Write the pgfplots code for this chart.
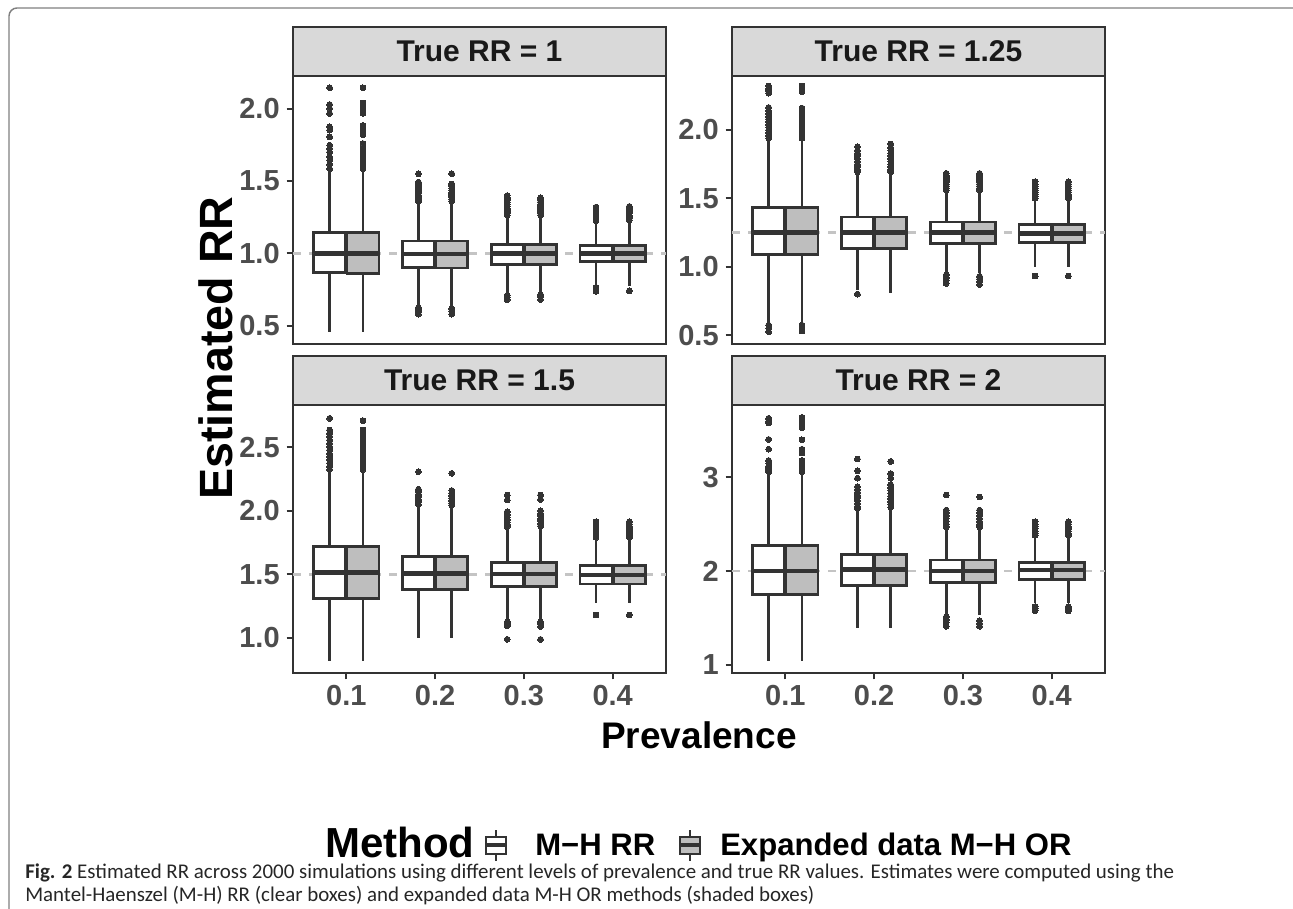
\documentclass[border=0pt]{standalone}
\usepackage{pgfplots}
\pgfplotsset{compat=1.18}
\usepgfplotslibrary{statistics}
\usepackage{fontspec}
\setmainfont{Liberation Sans}
\newfontfamily\capfont{Carlito}

\definecolor{frame}{HTML}{333333}
\definecolor{ticklab}{HTML}{4D4D4D}
\definecolor{stripbg}{HTML}{D9D9D9}
\definecolor{shade}{HTML}{BEBEBE}
\definecolor{refline}{HTML}{C4C4C4}
\definecolor{outer}{HTML}{808080}

\pgfplotsset{
  panel/.style={
    scale only axis, width=279.75pt, height=201pt,
    xmin=0.4, xmax=4.6,
    xtick={1,2,3,4},
    axis line style={draw=frame, line width=2.1pt},
    tick style={draw=frame, line width=1.6pt},
    tick align=outside, major tick length=4.8pt,
    tick pos=left,
    /pgf/number format/assume math mode=true,
    ticklabel style={font=\fontsize{21.75pt}{22pt}\bfseries\selectfont, text=ticklab, inner sep=0pt},
    yticklabel shift=5pt,
    xticklabel shift=4.5pt,
  },
  rrbox/.style={
    draw=frame, line width=1.9pt, solid,
    mark=*, mark size=2.2pt, mark options={draw=frame, fill=frame, line width=0pt},
    boxplot/every median/.style={line width=3.6pt},
  },
  ref/.style={draw=refline, line width=2.2pt, dash pattern=on 6pt off 6pt},
}

% one box: position, fill, lower whisker, lower quartile, median, upper quartile, upper whisker, outliers
\newcommand{\rrbox}[8]{%
  \addplot[rrbox, fill=#2, boxplot prepared={draw direction=y, draw position=#1, box extend=0.36, whisker extend=0,
    lower whisker=#3, lower quartile=#4, median=#5, upper quartile=#6, upper whisker=#7}]
    coordinates {#8};}

\newcommand{\strip}[2]{%
  \draw[fill=stripbg, draw=frame, line width=2.1pt] (#1.north west) rectangle ([yshift=36.75pt]#1.north east);
  \node[font=\fontsize{22.5pt}{23pt}\bfseries\selectfont, text=black!90] at ([yshift=18.4pt]#1.north) {#2};}

\begin{document}
\begin{tikzpicture}
\useasboundingbox (0,0) rectangle (969.75pt,681pt);
\draw[outer, line width=1.1pt, rounded corners=6pt] (6.75pt,-20pt) rectangle (990pt,675pt);

% True RR = 1
\begin{axis}[panel, name=p1, at={(219.75pt,624pt)}, anchor=north west,
  ymin=0.373, ymax=2.227, ytick={0.5,1,1.5,2}, yticklabels={0.5,1.0,1.5,2.0}, xtick=\empty]
\addplot[ref] coordinates {(0.4,1)(4.6,1)};
\rrbox{0.8125}{white}{0.458}{0.866}{1.0}{1.146}{1.574}{(0,2.146)(0,2.03)(0,2.003)(0,1.968)(0,1.875)(0,1.852)(0,1.806)(0,1.748)(0,1.725)(0,1.701)(0,1.667)(0,1.644)(0,1.616)(0,1.586)}
\rrbox{1.1875}{shade}{0.458}{0.862}{1.0}{1.146}{1.574}{(0,2.146)(0,2.04)(0,2.017)(0,1.99)(0,1.968)(0,1.885)(0,1.852)(0,1.82)(0,1.76)(0,1.725)(0,1.701)(0,1.667)(0,1.644)(0,1.616)(0,1.586)}
\rrbox{1.8125}{white}{0.637}{0.901}{0.995}{1.086}{1.354}{(0,1.551)(0,1.493)(0,1.478)(0,1.463)(0,1.448)(0,1.433)(0,1.418)(0,1.403)(0,1.388)(0,1.373)(0,1.36)(0,0.625)(0,0.61)(0,0.595)(0,0.579)}
\rrbox{2.1875}{shade}{0.637}{0.899}{0.995}{1.086}{1.354}{(0,1.551)(0,1.48)(0,1.466)(0,1.45)(0,1.435)(0,1.42)(0,1.405)(0,1.39)(0,1.375)(0,1.36)(0,0.618)(0,0.60)(0,0.58)}
\rrbox{2.8125}{white}{0.718}{0.924}{1.0}{1.063}{1.25}{(0,1.40)(0,1.385)(0,1.37)(0,1.355)(0,1.34)(0,1.325)(0,1.31)(0,1.295)(0,1.28)(0,1.265)(0,0.71)(0,0.695)(0,0.68)}
\rrbox{3.1875}{shade}{0.718}{0.924}{1.0}{1.063}{1.25}{(0,1.385)(0,1.37)(0,1.355)(0,1.34)(0,1.325)(0,1.31)(0,1.295)(0,1.28)(0,1.265)(0,0.715)(0,0.70)(0,0.68)}
\rrbox{3.8125}{white}{0.776}{0.942}{1.0}{1.053}{1.215}{(0,1.32)(0,1.305)(0,1.29)(0,1.27)(0,1.255)(0,1.24)(0,1.225)(0,0.765)(0,0.75)(0,0.738)}
\rrbox{4.1875}{shade}{0.776}{0.942}{1.0}{1.053}{1.215}{(0,1.325)(0,1.31)(0,1.295)(0,1.28)(0,1.26)(0,1.245)(0,1.23)(0,0.741)}
\end{axis}
\strip{p1}{True RR = 1}

% True RR = 1.25
\begin{axis}[panel, name=p2, at={(549pt,624pt)}, anchor=north west,
  ymin=0.435, ymax=2.395, ytick={0.5,1,1.5,2}, yticklabels={0.5,1.0,1.5,2.0}, xtick=\empty]
\addplot[ref] coordinates {(0.4,1.25)(4.6,1.25)};
\rrbox{0.8125}{white}{0.598}{1.091}{1.249}{1.432}{1.927}{(0,2.322)(0,2.305)(0,2.29)(0,2.27)(0,2.165)(0,2.14)(0,2.12)(0,2.10)(0,2.08)(0,2.06)(0,2.04)(0,2.02)(0,2.00)(0,1.98)(0,1.96)(0,1.94)(0,0.573)(0,0.55)(0,0.525)}
\rrbox{1.1875}{shade}{0.598}{1.091}{1.249}{1.432}{1.927}{(0,2.322)(0,2.30)(0,2.28)(0,2.16)(0,2.13)(0,2.10)(0,2.08)(0,2.06)(0,2.04)(0,2.02)(0,2.00)(0,1.98)(0,1.96)(0,1.94)(0,0.573)(0,0.55)(0,0.53)}
\rrbox{1.8125}{white}{0.83}{1.134}{1.249}{1.364}{1.683}{(0,1.878)(0,1.85)(0,1.83)(0,1.81)(0,1.79)(0,1.77)(0,1.75)(0,1.73)(0,1.71)(0,1.695)(0,0.80)}
\rrbox{2.1875}{shade}{0.805}{1.134}{1.249}{1.364}{1.683}{(0,1.898)(0,1.87)(0,1.85)(0,1.83)(0,1.81)(0,1.79)(0,1.77)(0,1.75)(0,1.73)(0,1.71)(0,1.695)}
\rrbox{2.8125}{white}{0.951}{1.171}{1.249}{1.327}{1.549}{(0,1.683)(0,1.665)(0,1.65)(0,1.635)(0,1.62)(0,1.605)(0,1.59)(0,1.575)(0,1.56)(0,0.94)(0,0.92)(0,0.90)(0,0.878)}
\rrbox{3.1875}{shade}{0.951}{1.171}{1.249}{1.327}{1.549}{(0,1.683)(0,1.665)(0,1.65)(0,1.635)(0,1.62)(0,1.605)(0,1.59)(0,1.575)(0,1.56)(0,0.93)(0,0.91)(0,0.89)(0,0.87)}
\rrbox{3.8125}{white}{1.0}{1.178}{1.243}{1.31}{1.488}{(0,1.622)(0,1.605)(0,1.59)(0,1.575)(0,1.56)(0,1.545)(0,1.53)(0,1.515)(0,1.50)(0,0.932)}
\rrbox{4.1875}{shade}{1.0}{1.178}{1.245}{1.31}{1.488}{(0,1.622)(0,1.605)(0,1.59)(0,1.575)(0,1.56)(0,1.545)(0,1.53)(0,1.515)(0,1.50)(0,0.932)}
\end{axis}
\strip{p2}{True RR = 1.25}

% True RR = 1.5
\begin{axis}[panel, name=p3, at={(219.75pt,377.25pt)}, anchor=north west,
  ymin=0.723, ymax=2.833, ytick={1,1.5,2,2.5}, yticklabels={1.0,1.5,2.0,2.5}, xticklabels={0.1,0.2,0.3,0.4}]
\addplot[ref] coordinates {(0.4,1.5)(4.6,1.5)};
\rrbox{0.8125}{white}{0.817}{1.311}{1.513}{1.717}{2.308}{(0,2.728)(0,2.636)(0,2.61)(0,2.585)(0,2.557)(0,2.53)(0,2.505)(0,2.478)(0,2.45)(0,2.425)(0,2.40)(0,2.375)(0,2.35)(0,2.325)}
\rrbox{1.1875}{shade}{0.817}{1.311}{1.513}{1.717}{2.308}{(0,2.71)(0,2.636)(0,2.61)(0,2.585)(0,2.557)(0,2.53)(0,2.505)(0,2.478)(0,2.45)(0,2.425)(0,2.40)(0,2.375)(0,2.35)(0,2.325)}
\rrbox{1.8125}{white}{0.996}{1.382}{1.508}{1.639}{2.032}{(0,2.308)(0,2.17)(0,2.15)(0,2.13)(0,2.11)(0,2.09)(0,2.07)(0,2.05)}
\rrbox{2.1875}{shade}{0.996}{1.382}{1.508}{1.639}{2.032}{(0,2.295)(0,2.16)(0,2.14)(0,2.12)(0,2.10)(0,2.08)(0,2.06)(0,2.045)}
\rrbox{2.8125}{white}{1.14}{1.403}{1.503}{1.592}{1.862}{(0,2.124)(0,2.085)(0,1.993)(0,1.967)(0,1.95)(0,1.93)(0,1.91)(0,1.89)(0,1.875)(0,1.125)(0,1.11)(0,1.095)(0,0.988)}
\rrbox{3.1875}{shade}{1.14}{1.403}{1.503}{1.592}{1.862}{(0,2.124)(0,2.09)(0,2.00)(0,1.98)(0,1.96)(0,1.94)(0,1.92)(0,1.90)(0,1.88)(0,1.125)(0,1.11)(0,1.09)(0,0.988)}
\rrbox{3.8125}{white}{1.272}{1.424}{1.494}{1.571}{1.783}{(0,1.914)(0,1.895)(0,1.88)(0,1.865)(0,1.85)(0,1.835)(0,1.82)(0,1.805)(0,1.79)(0,1.18)}
\rrbox{4.1875}{shade}{1.272}{1.424}{1.494}{1.571}{1.783}{(0,1.914)(0,1.895)(0,1.88)(0,1.865)(0,1.85)(0,1.835)(0,1.82)(0,1.805)(0,1.79)(0,1.18)}
\end{axis}
\strip{p3}{True RR = 1.5}

% True RR = 2
\begin{axis}[panel, name=p4, at={(549pt,377.25pt)}, anchor=north west,
  ymin=0.911, ymax=3.772, ytick={1,2,3}, yticklabels={1,2,3}, xticklabels={0.1,0.2,0.3,0.4}]
\addplot[ref] coordinates {(0.4,2)(4.6,2)};
\rrbox{0.8125}{white}{1.04}{1.751}{2.0}{2.27}{3.042}{(0,3.63)(0,3.60)(0,3.58)(0,3.405)(0,3.30)(0,3.18)(0,3.15)(0,3.12)(0,3.10)(0,3.08)(0,3.06)}
\rrbox{1.1875}{shade}{1.04}{1.751}{2.0}{2.27}{3.042}{(0,3.64)(0,3.61)(0,3.58)(0,3.53)(0,3.40)(0,3.30)(0,3.26)(0,3.18)(0,3.15)(0,3.12)(0,3.10)(0,3.08)(0,3.06)}
\rrbox{1.8125}{white}{1.388}{1.843}{2.018}{2.174}{2.651}{(0,3.195)(0,3.07)(0,2.99)(0,2.90)(0,2.87)(0,2.84)(0,2.81)(0,2.78)(0,2.75)(0,2.72)(0,2.69)(0,2.67)}
\rrbox{2.1875}{shade}{1.388}{1.843}{2.018}{2.174}{2.651}{(0,3.17)(0,3.04)(0,2.99)(0,2.92)(0,2.89)(0,2.86)(0,2.83)(0,2.80)(0,2.77)(0,2.74)(0,2.71)(0,2.68)}
\rrbox{2.8125}{white}{1.53}{1.879}{2.0}{2.117}{2.455}{(0,2.811)(0,2.65)(0,2.62)(0,2.59)(0,2.56)(0,2.53)(0,2.50)(0,2.47)(0,1.51)(0,1.48)(0,1.45)(0,1.41)}
\rrbox{3.1875}{shade}{1.53}{1.879}{2.0}{2.117}{2.455}{(0,2.79)(0,2.65)(0,2.62)(0,2.59)(0,2.56)(0,2.53)(0,2.50)(0,2.47)(0,1.47)(0,1.44)(0,1.41)}
\rrbox{3.8125}{white}{1.655}{1.911}{2.01}{2.093}{2.366}{(0,2.526)(0,2.50)(0,2.475)(0,2.45)(0,2.425)(0,2.40)(0,2.38)(0,1.62)(0,1.60)(0,1.575)}
\rrbox{4.1875}{shade}{1.655}{1.911}{2.01}{2.093}{2.366}{(0,2.526)(0,2.50)(0,2.475)(0,2.45)(0,2.425)(0,2.40)(0,2.38)(0,1.62)(0,1.60)(0,1.575)}
\end{axis}
\strip{p4}{True RR = 2}

% axis titles
\node[font=\fontsize{35pt}{36pt}\bfseries\selectfont, rotate=90] at (162pt,420pt) {Estimated RR};
\node[font=\fontsize{27.75pt}{28pt}\bfseries\selectfont] at (524.25pt,129.75pt) {Prevalence};

% legend
\begin{scope}[yshift=2.5pt]
\node[font=\fontsize{31.5pt}{32pt}\bfseries\selectfont, anchor=base west, inner sep=0pt] at (243.75pt,35.5pt) {Method};
\begin{scope}[draw=frame, line width=1.4pt]
  \draw (372pt,33pt) -- (372pt,56.25pt);
  \draw[fill=white] (364.5pt,38.25pt) rectangle (379.5pt,51pt);
  \draw[line width=2.6pt] (364.5pt,44.6pt) -- (379.5pt,44.6pt);
  \draw (517.5pt,33pt) -- (517.5pt,56.25pt);
  \draw[fill=shade] (510pt,38.25pt) rectangle (525pt,51pt);
  \draw[line width=2.6pt] (510pt,44.6pt) -- (525pt,44.6pt);
\end{scope}
\node[font=\fontsize{23.3pt}{24pt}\bfseries\selectfont, anchor=base west, inner sep=0pt] at (401.25pt,37pt) {M\textminus H RR};
\node[font=\fontsize{23.3pt}{24pt}\bfseries\selectfont, anchor=base west, inner sep=0pt] at (540pt,37pt) {Expanded data M\textminus H OR};
\end{scope}

% caption
\node[font=\capfont\fontsize{15.7pt}{17.25pt}\selectfont, anchor=base west, inner sep=0pt, text=black!85] at (18.75pt,22pt) {\textbf{Fig. 2} Estimated RR across 2000 simulations using different levels of prevalence and true RR values. Estimates were computed using the};
\node[font=\capfont\fontsize{15.7pt}{17.25pt}\selectfont, anchor=base west, inner sep=0pt, text=black!85] at (18.75pt,5pt) {Mantel-Haenszel (M-H) RR (clear boxes) and expanded data M-H OR methods (shaded boxes)};
\end{tikzpicture}
\end{document}
